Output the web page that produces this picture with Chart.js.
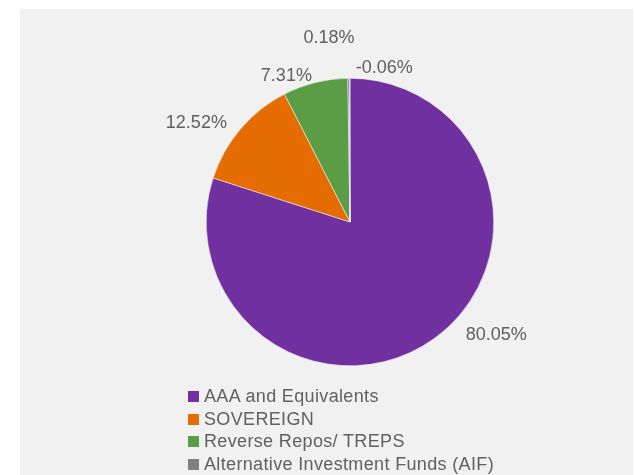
<!DOCTYPE html>
<html>
<head>
<meta charset="utf-8">
<script src="https://cdn.jsdelivr.net/npm/chart.js@4"></script>
<style>
    html, body { margin: 0; padding: 0; background: #ffffff; overflow: hidden; }
    #page { position: relative; width: 634px; height: 475px; overflow: hidden; }
    #panel { position: absolute; left: 20px; top: 9px; width: 613px; height: 466px; background: #f1f1f1; }
    #wrap { position: absolute; left: 0; top: 0; width: 634px; height: 475px; }
    #legend { position: absolute; left: 188px; top: 385px; font-family: "Liberation Sans", Arial, sans-serif;
        font-size: 18px; color: #606060; line-height: 22.7px; letter-spacing: 0.35px; }
    #legend .row { display: flex; align-items: center; white-space: nowrap; }
    #legend .box { width: 11px; height: 11px; margin-right: 5px; }
</style>
</head>
<body>
<div id="page">
    <div id="panel"></div>
    <div id="wrap"><canvas id="pieChart"></canvas></div>
    <div id="legend"></div>
</div>
<script>
const categories = ['AAA and Equivalents', 'SOVEREIGN', 'Reverse Repos/ TREPS', 'Alternative Investment Funds (AIF)', 'Net Current Assets'];
const shares = [80.05, 12.52, 7.31, 0.18, -0.06];
const sliceColors = ['#7030a0', '#e56c00', '#5b9d45', '#808080', '#4472c4'];

// where each percentage label sits: angle from 12 o'clock (deg) and distance in radii
const labelAngles = [127.6, 302.7, 336.5, 353.5, 12.5];
const labelDist = [1.285, 1.27, 1.11, 1.29, 1.10];

const textColor = '#606060';
const fontFamily = '"Liberation Sans", Arial, sans-serif';

const pieLabels = {
    id: 'pieLabels',
    afterDatasetsDraw(chart) {
        const ctx = chart.ctx;
        const meta = chart.getDatasetMeta(0);
        ctx.save();
        ctx.font = '18px ' + fontFamily;
        ctx.fillStyle = textColor;
        ctx.textAlign = 'center';
        ctx.textBaseline = 'middle';
        meta.data.forEach((arc, i) => {
            const a = labelAngles[i] * Math.PI / 180;
            const r = arc.outerRadius * labelDist[i];
            const x = arc.x + Math.sin(a) * r;
            const y = arc.y - Math.cos(a) * r;
            ctx.fillText(shares[i].toFixed(2) + '%', x, y);
        });
        ctx.restore();
    }
};

document.addEventListener('DOMContentLoaded', () => {
    const ctx = document.getElementById('pieChart');

    new Chart(ctx, {
        type: 'pie',
        data: {
            labels: categories,
            datasets: [{
                data: shares,
                backgroundColor: sliceColors,
                borderColor: '#ffffff',
                borderWidth: 0.5
            }]
        },
        options: {
            responsive: true,
            maintainAspectRatio: false,
            animation: false,
            layout: {
                padding: { left: 206, right: 140, top: 78, bottom: 109 }
            },
            plugins: {
                legend: { display: false },
                tooltip: { enabled: false }
            }
        },
        plugins: [pieLabels]
    });

    // legend below the pie, one entry per row
    const legendEl = document.getElementById('legend');
    categories.forEach((name, i) => {
        const row = document.createElement('div');
        row.className = 'row';
        const box = document.createElement('span');
        box.className = 'box';
        box.style.background = sliceColors[i];
        const label = document.createElement('span');
        label.textContent = name;
        row.appendChild(box);
        row.appendChild(label);
        legendEl.appendChild(row);
    });
});
</script>
</body>
</html>
